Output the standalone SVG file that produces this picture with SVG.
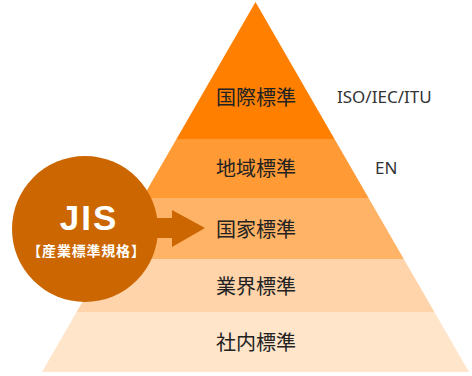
<svg xmlns="http://www.w3.org/2000/svg" width="472" height="376" viewBox="0 0 472 376">
<style>
.lbl{font-family:"Noto Sans CJK JP","Noto Sans",sans-serif;font-size:20px;fill:#222;text-anchor:middle}
.side{font-family:"Noto Sans","DejaVu Sans",sans-serif;font-size:17px;fill:#333}
.jis{font-family:"Liberation Sans",Arial,sans-serif;font-weight:bold;font-size:35px;fill:#fff;text-anchor:middle;letter-spacing:2px}
.sub{font-family:"Noto Sans CJK JP",sans-serif;font-weight:bold;font-size:14px;fill:#fff;text-anchor:middle;letter-spacing:0.8px}
</style>
<rect width="472" height="376" fill="#fff"/>
<g id="band-international">
<polygon points="255.5,2 334.5,139 176.5,139" fill="#FF8000"/>
<text class="lbl" x="256" y="105">国際標準</text>
</g>
<g id="band-regional">
<polygon points="176.5,139 334.5,139 368.6,198 142.4,198" fill="#FF9A35"/>
<text class="lbl" x="256" y="176">地域標準</text>
</g>
<g id="band-national">
<polygon points="142.4,198 368.6,198 403.8,259 107.2,259" fill="#FFB366"/>
<text class="lbl" x="256" y="237">国家標準</text>
</g>
<g id="band-industry">
<polygon points="107.2,259 403.8,259 434.4,312 76.6,312" fill="#FFD4AA"/>
<text class="lbl" x="256" y="294">業界標準</text>
</g>
<g id="band-company">
<polygon points="76.6,312 434.4,312 469,372 42,372" fill="#FFE5CA"/>
<text class="lbl" x="256" y="350">社内標準</text>
</g>
<g id="label-iso">
<text class="side" x="337" y="103">ISO/IEC/ITU</text>
</g>
<g id="label-en">
<text class="side" x="375" y="174">EN</text>
</g>
<g id="connectors">
<polygon points="140,218 172,218 172,210 205,228 172,247 172,238 140,238" fill="#CC6600"/>
</g>
<g id="jis">
<circle cx="85" cy="229" r="73" fill="#CC6600"/>
<text class="jis" x="89" y="230">JIS</text>
<text class="sub" x="86.5" y="256">【産業標準規格】</text>
</g>
</svg>
